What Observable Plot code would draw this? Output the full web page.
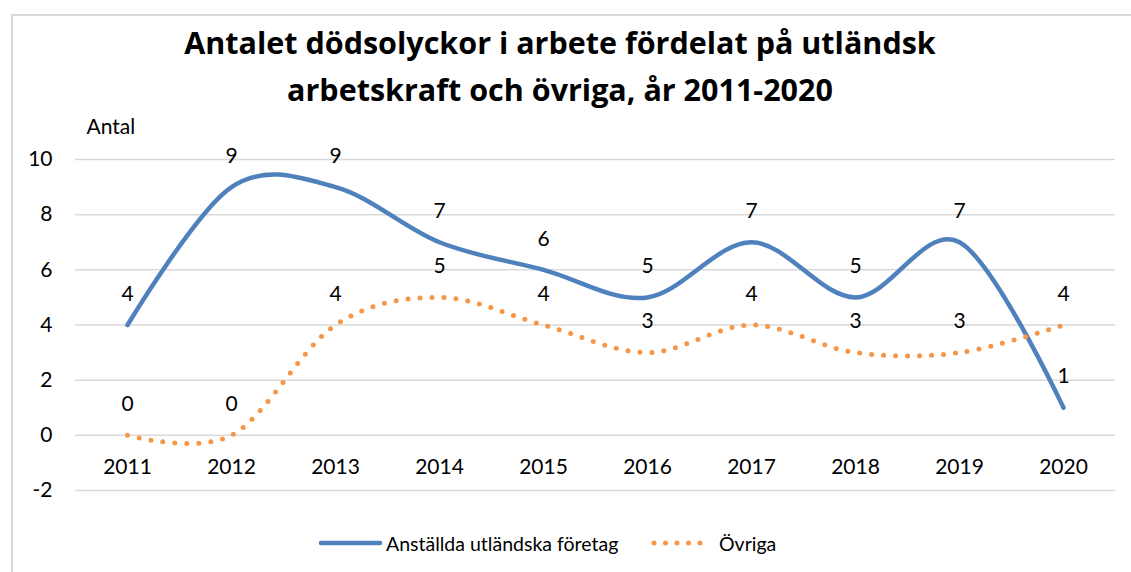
<!DOCTYPE html>
<html><head><meta charset="utf-8">
<script src="https://cdn.jsdelivr.net/npm/d3@7"></script>
<script src="https://cdn.jsdelivr.net/npm/@observablehq/plot@0.6"></script>
<style>
html,body{margin:0;padding:0;background:#fff;overflow:hidden;}
#wrap{position:relative;width:1131px;height:572px;font-family:Lato,"Noto Sans",sans-serif;color:#000;}
#frame{position:absolute;left:11px;top:14px;width:1140px;height:600px;border:2px solid #d9d9d9;box-sizing:border-box;}
#title{position:absolute;left:0;width:1120px;top:19px;text-align:center;font-family:"Open Sans","Noto Sans",sans-serif;font-weight:bold;font-size:30.5px;line-height:47px;}
#plot{position:absolute;left:0;top:110px;}
#legend{position:absolute;top:530px;left:0;width:1131px;height:26px;font-size:19.5px;}
.li{position:absolute;top:0;display:flex;align-items:center;height:26px;}
</style></head>
<body><div id="wrap"><div id="frame"></div>
<div id="title">Antalet dödsolyckor i arbete fördelat på utländsk<br>arbetskraft och övriga, år 2011-2020</div>
<div id="plot"></div>
<div id="legend"></div>
</div>
<script>
const years = ["2011","2012","2013","2014","2015","2016","2017","2018","2019","2020"];
const utlandska = [4,9,9,7,6,5,7,5,7,1];
const ovriga = [0,0,4,5,4,3,4,3,3,4];
const seriesNames = ["Anställda utländska företag","Övriga"];
const colors = ["#4f81bd","#f79646"];
const yTicks = [-2,0,2,4,6,8,10];

const s1 = years.map((y,i)=>({year:y, value:utlandska[i]}));
const s2 = years.map((y,i)=>({year:y, value:ovriga[i]}));
const FS = 21;

const chart = Plot.plot({
  width:1131, height:400,
  marginLeft:75, marginRight:16, marginTop:49, marginBottom:20,
  style:{fontFamily:"Lato, 'Noto Sans', sans-serif", fontSize:FS+"px", color:"#000", background:"transparent"},
  x:{type:"point", domain:years, padding:0.5, axis:null},
  y:{domain:[-2,10], axis:null},
  marks:[
    Plot.gridY(yTicks,{stroke:"#d9d9d9", strokeOpacity:1, strokeWidth:1.5}),
    Plot.axisY(yTicks,{tickSize:0, tickPadding:23, label:null, fontSize:FS, tickFormat:d=>String(d)}),
    Plot.text(["Antal"],{frameAnchor:"top-left", dx:11, dy:-32, textAnchor:"start", lineAnchor:"middle", fontSize:FS}),
    Plot.text(years,{x:d=>d, y:()=>0, dy:32, fontSize:FS}),
    Plot.line(s1,{x:"year", y:"value", curve:"cardinal", stroke:colors[0], strokeWidth:4.5, strokeLinecap:"round", strokeLinejoin:"round"}),
    Plot.line(s2,{x:"year", y:"value", curve:"cardinal", stroke:colors[1], strokeWidth:5, strokeLinecap:"round", strokeDasharray:"0 12"}),
    Plot.text(s1,{x:"year", y:"value", text:d=>String(d.value), dy:-31, fontSize:FS}),
    Plot.text(s2,{x:"year", y:"value", text:d=>String(d.value), dy:-31, fontSize:FS})
  ]
});
document.getElementById("plot").appendChild(chart);

const lg = document.getElementById("legend");
const items = [
  {name:seriesNames[0], color:colors[0], left:318, dash:null},
  {name:seriesNames[1], color:colors[1], left:651, dash:"0 11.5"}
];
items.forEach(it=>{
  const d = document.createElement("div"); d.className="li"; d.style.left=it.left+"px";
  d.innerHTML = `<svg width="66" height="26"><line x1="3" y1="13" x2="${it.dash?60:62}" y2="13" stroke="${it.color}" stroke-width="${it.dash?5:4.5}" stroke-linecap="round" ${it.dash?`stroke-dasharray="${it.dash}"`:""}/></svg><span style="margin-left:2px">${it.name}</span>`;
  lg.appendChild(d);
});
</script></body></html>
